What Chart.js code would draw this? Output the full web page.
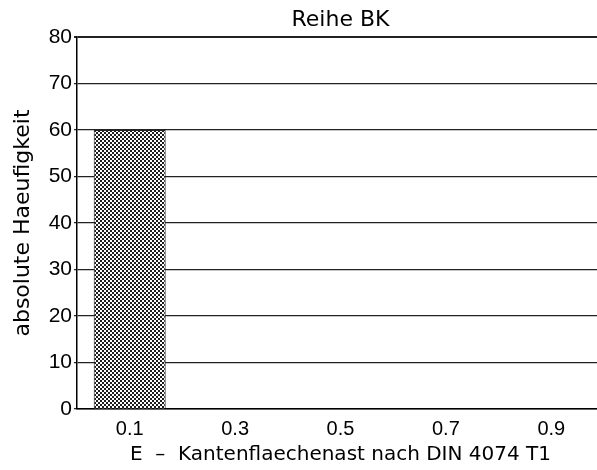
<!DOCTYPE html>
<html>
<head>
<meta charset="utf-8">
<script src="https://cdn.jsdelivr.net/npm/chart.js@4.4.1/dist/chart.umd.min.js"></script>
<style>
    html, body { margin: 0; padding: 0; background: #fff; overflow: hidden; }
    #wrap { width: 604px; height: 470px; }
</style>
</head>
<body>
<div id="wrap"><canvas id="chart" width="604" height="470"></canvas></div>
<script>
// ---- Data ----
const categories = ['0.1', '0.3', '0.5', '0.7', '0.9'];
const counts = [60, 0, 0, 0, 0];
const yTicks = [0, 10, 20, 30, 40, 50, 60, 70, 80];

const chartTitle = 'Reihe BK';
const xTitle = 'E  \u2013  Kantenflaechenast nach DIN 4074 T1';
const yTitle = 'absolute Haeufigkeit';

// ---- Checkered fill ----
function makePattern() {
    const c = document.createElement('canvas');
    c.width = 4;
    c.height = 4;
    const g = c.getContext('2d');
    g.fillStyle = '#fff';
    g.fillRect(0, 0, 4, 4);
    g.fillStyle = '#1e1e1e';
    g.fillRect(0, 0, 2, 2);
    g.fillRect(2, 2, 2, 2);
    return g.createPattern(c, 'repeat');
}

const ctx = document.getElementById('chart');

new Chart(ctx, {
    type: 'bar',
    data: {
        labels: categories,
        datasets: [{
            data: counts,
            backgroundColor: makePattern(),
            borderColor: '#222',
            borderWidth: 1,
            categoryPercentage: 1,
            barPercentage: 0.683
        }]
    },
    options: {
        responsive: false,
        animation: false,
        layout: { padding: 0 },
        plugins: {
            legend: { display: false },
            tooltip: { enabled: false },
            title: {
                display: true,
                text: chartTitle,
                fullSize: false,
                color: '#000',
                font: { family: 'DejaVu Sans', size: 22, weight: 'normal' },
                padding: { top: 7, bottom: 3.6 }
            }
        },
        scales: {
            x: {
                afterFit: s => { s.height = 61; },
                grid: { display: false },
                border: { color: '#000', width: 1.5 },
                ticks: {
                    color: '#000',
                    padding: 0,
                    font: { family: 'Liberation Sans', size: 20 }
                },
                title: {
                    display: true,
                    text: xTitle,
                    color: '#000',
                    font: { family: 'DejaVu Sans', size: 20 },
                    padding: { top: 0, bottom: 3 }
                }
            },
            y: {
                min: 0,
                max: 80,
                afterFit: s => { s.width = 77; },
                afterBuildTicks: s => { s.ticks = yTicks.map(v => ({ value: v })); },
                grid: {
                    color: '#222',
                    lineWidth: c => (c.tick && c.tick.value === 80 ? 2 : 1.2),
                    tickLength: 3
                },
                border: { color: '#000', width: 1.5 },
                ticks: {
                    color: '#000',
                    padding: 2,
                    font: { family: 'Liberation Sans', size: 21 }
                },
                title: {
                    display: true,
                    text: yTitle,
                    color: '#000',
                    font: { family: 'DejaVu Sans', size: 22 },
                    padding: { top: 10, bottom: 0 }
                }
            }
        }
    }
});
</script>
</body>
</html>
